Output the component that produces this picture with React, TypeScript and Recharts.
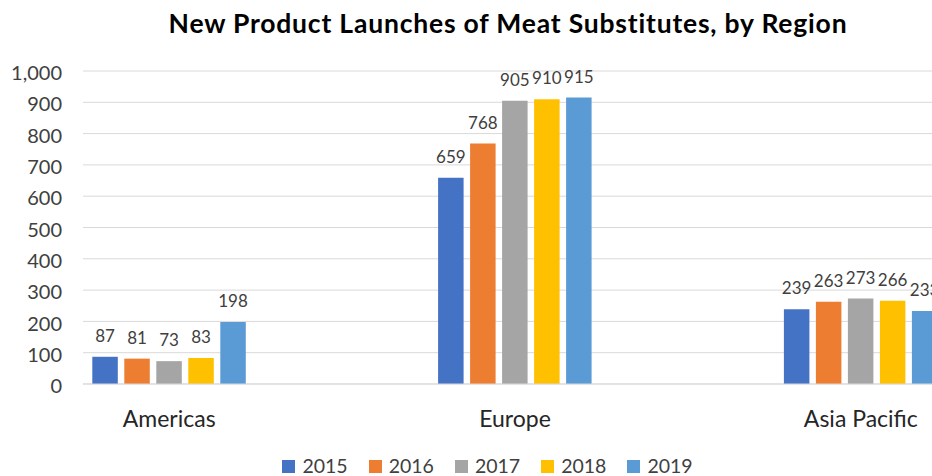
import { BarChart, Bar, XAxis, YAxis, CartesianGrid, Legend, LabelList } from "recharts";

const regions = ["Americas", "Europe", "Asia Pacific"];
const years = ["2015", "2016", "2017", "2018", "2019"];
const launches2015 = [87, 659, 239];
const launches2016 = [81, 768, 263];
const launches2017 = [73, 905, 273];
const launches2018 = [83, 910, 266];
const launches2019 = [198, 915, 233];
const yTicks = [0, 100, 200, 300, 400, 500, 600, 700, 800, 900, 1000];

const seriesValues = [launches2015, launches2016, launches2017, launches2018, launches2019];
const colors = ["#4472C4", "#ED7D31", "#A5A5A5", "#FFC000", "#5B9BD5"];

const data = regions.map((region, i) => {
  const row: Record<string, string | number> = { region };
  years.forEach((y, k) => {
    row[y] = seriesValues[k][i];
  });
  return row;
});

const font = "Lato, 'Open Sans', sans-serif";

function LegendContent({ payload }: any) {
  return (
    <div
      style={{
        height: 30,
        display: "flex",
        justifyContent: "center",
        alignItems: "flex-end",
        paddingLeft: 43,
        fontFamily: font,
        fontSize: 19.5,
        color: "#404040",
      }}
    >
      {(payload || []).map((p: any, i: number) => (
        <div key={p.value} style={{ display: "flex", alignItems: "center", marginLeft: i === 0 ? 0 : 21, height: 22, marginBottom: -1 }}>
          <span style={{ width: 13, height: 13, background: p.color, display: "inline-block", marginRight: 7 }} />
          <span style={{ lineHeight: "22px" }}>{p.value}</span>
        </div>
      ))}
    </div>
  );
}

export default function App() {
  return (
    <div style={{ position: "absolute", left: 0, top: 0, width: 932, height: 476, overflow: "hidden", background: "#fff" }}>
      <div
        style={{
          position: "absolute",
          left: 0,
          top: 7,
          width: 1016,
          textAlign: "center",
          fontFamily: font,
          fontWeight: 700,
          fontSize: 26.5,
          letterSpacing: 0.8,
          color: "#000",
          lineHeight: "32px",
        }}
      >
        New Product Launches of Meat Substitutes, by Region
      </div>
      <BarChart
        width={932}
        height={476}
        data={data}
        margin={{ top: 71, right: 0, bottom: 0, left: 0 }}
        barSize={25.5}
        barGap={6.5}
      >
        <CartesianGrid vertical={false} stroke="#d9d9d9" />
        <XAxis
          dataKey="region"
          height={62}
          padding={{ left: -86.7, right: -101.7 }}
          tickLine={false}
          tickSize={0}
          tickMargin={27}
          axisLine={{ stroke: "#d9d9d9" }}
          tick={{ fill: "#262626", fontSize: 23, fontFamily: font }}
          interval={0}
        />
        <YAxis
          width={83}
          domain={[0, 1000]}
          ticks={yTicks}
          axisLine={false}
          tickLine={false}
          tickSize={0}
          tickMargin={21}
          tickFormatter={(v: number) => v.toLocaleString("en-US")}
          tick={{ fill: "#404040", fontSize: 20, fontFamily: font, dy: 2 }}
        />
        <Legend verticalAlign="bottom" content={<LegendContent />} wrapperStyle={{ left: 0, width: 932 }} />
        {years.map((y, k) => (
          <Bar key={y} dataKey={y} fill={colors[k]} isAnimationActive={false}>
            <LabelList dataKey={y} position="top" offset={15} fill="#404040" fontSize={17} fontFamily={font} />
          </Bar>
        ))}
      </BarChart>
    </div>
  );
}
